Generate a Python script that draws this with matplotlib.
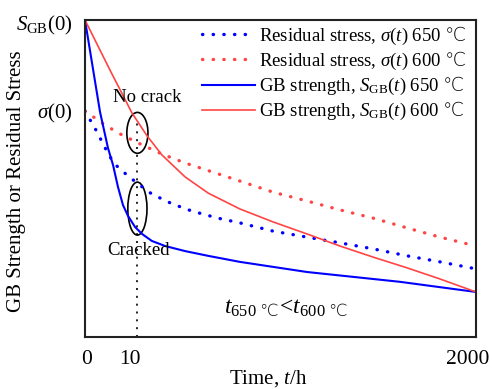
import matplotlib
matplotlib.use("Agg")
import matplotlib.pyplot as plt
from matplotlib.patches import Ellipse

plt.rcParams['font.family'] = ['Liberation Serif', 'DejaVu Serif']
plt.rcParams['mathtext.fontset'] = 'custom'
plt.rcParams['mathtext.rm'] = 'Liberation Serif'
plt.rcParams['mathtext.it'] = 'Liberation Serif:italic'
plt.rcParams['mathtext.bf'] = 'Liberation Serif:bold'
plt.rcParams['mathtext.sf'] = 'Noto Sans CJK SC:light'   # only used for the ℃ sign

# schematic units: x 0..100 (time axis, not to scale), y 0..100 (stress)
x_gb650 = [0, 3.84, 5.88, 7.16, 8.44, 9.72, 11.0, 12.8, 14.6, 17.1, 20.5, 25.6, 31.5, 39.6, 56.8, 80.6, 100]
y_gb650 = [100, 71.0, 59.6, 54.3, 47.3, 41.6, 38.2, 34.7, 32.5, 30.3, 28.7, 27.1, 25.6, 23.7, 20.5, 17.4, 14.2]

x_gb600 = [0, 6.39, 12.0, 15.9, 19.7, 25.6, 31.5, 39.6, 48.1, 56.8, 65.2, 73.7, 82.4, 90.8, 100]
y_gb600 = [100, 84.2, 70.7, 63.4, 57.4, 50.5, 45.4, 40.4, 36.3, 32.5, 28.7, 25.2, 21.8, 18.3, 14.2]

x_rs650 = [0, 3.07, 4.86, 6.39, 8.18, 11.0, 13.6, 17.1, 22.3, 27.4, 34.0, 39.6, 48.1, 56.8, 65.2, 73.7, 82.4, 90.8, 100]
y_rs650 = [71.3, 64.7, 60.3, 56.8, 53.9, 50.8, 48.3, 45.1, 42.0, 39.7, 37.5, 36.0, 33.4, 31.5, 29.7, 27.8, 25.6, 23.7, 21.5]

x_rs600 = [0, 4.35, 8.44, 13.6, 19.7, 25.6, 32.5, 39.6, 48.1, 56.8, 65.2, 73.7, 82.4, 90.8, 100]
y_rs600 = [71.3, 67.5, 64.4, 61.2, 57.7, 54.9, 52.1, 49.2, 45.7, 42.9, 40.1, 37.5, 34.4, 31.5, 28.7]

t_mark = 13.4
xtick_pos = [0.5, 11.5, 98]
xtick_lab = ['0', '10', '2000']
ytick_pos = [99.4, 71.6]
ytick_lab = [r'$S_{\mathrm{GB}}(0)$', r'$\sigma(0)$']

deg = r'$\mathsf{℃}$'

fig = plt.figure(figsize=(4.92, 3.89), dpi=100)
ax = fig.add_axes([85/492, 1-337/389, 391/492, 317/389])

dot = (0, (0.1, 3.1))
ax.plot(x_rs650, y_rs650, color='#0000ff', lw=2.4, ls=dot, dash_capstyle='round',
        label=r'Residual stress, $\sigma(t)$ 650 ' + deg)
ax.plot(x_rs600, y_rs600, color='#ff4444', lw=2.4, ls=dot, dash_capstyle='round',
        label=r'Residual stress, $\sigma(t)$ 600 ' + deg)
ax.plot(x_gb650, y_gb650, color='#0000ff', lw=1.5,
        label=r'GB strength, $S_{\mathrm{GB}}(t)$ 650 ' + deg)
ax.plot(x_gb600, y_gb600, color='#ff4444', lw=1.2,
        label=r'GB strength, $S_{\mathrm{GB}}(t)$ 600 ' + deg)

ax.plot([t_mark, t_mark], [0, 68.5], color='k', lw=1.2, ls=(0, (1.2, 3.5)))
ax.add_patch(Ellipse((t_mark, 64.4), 5.4, 12.9, fill=False, ec='k', lw=1.2))
ax.add_patch(Ellipse((t_mark, 40.5), 4.9, 16.7, fill=False, ec='k', lw=1.2))

ax.text(15.9, 75.7, 'No crack', fontsize=13.5, ha='center', va='center')
ax.text(13.7, 27.4, 'Cracked', fontsize=13.5, ha='center', va='center')
ax.text(51.4, 9.1, r'$t_{650\ \mathsf{℃}}\!<\!t_{600\ \mathsf{℃}}$', fontsize=17,
        ha='center', va='center')

ax.set_xlim(0, 100)
ax.set_ylim(0, 100)
ax.set_xticks(xtick_pos)
ax.set_xticklabels(xtick_lab, fontsize=15.5)
ax.set_yticks(ytick_pos)
ax.set_yticklabels(ytick_lab, fontsize=15)
ax.tick_params(length=0, pad=9)
for s in ax.spines.values():
    s.set_linewidth(1.5)
    s.set_color('#222222')

ax.set_xlabel(r'Time, $t$/h', fontsize=15)
ax.xaxis.set_label_coords(0.468, -0.097)
ax.set_ylabel('GB Strength or Residual Stress', fontsize=15)
ax.yaxis.set_label_coords(-0.151, 0.49)

ax.legend(loc='upper right', bbox_to_anchor=(0.975, 0.985), frameon=False,
          fontsize=13.5, handlelength=2.8, handletextpad=0.2, labelspacing=0.16,
          borderpad=0, borderaxespad=0)

fig.savefig('out.png', dpi=100)
